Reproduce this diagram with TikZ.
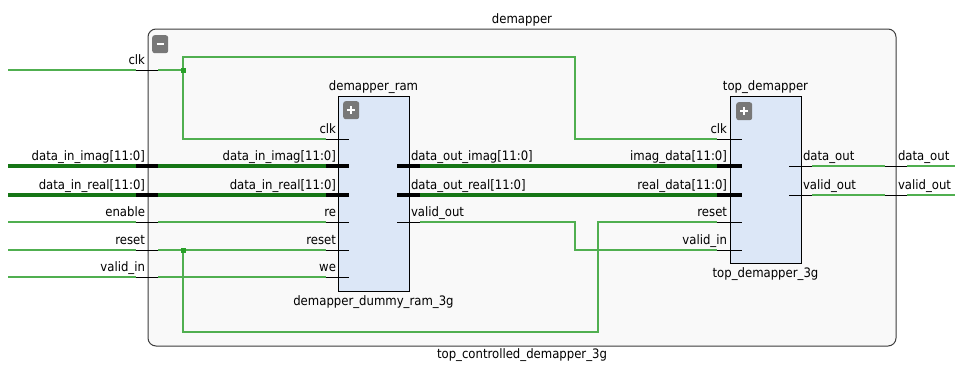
\documentclass[tikz,border=0pt]{standalone}
\usepackage{fontspec}
\setmainfont{DejaVu Sans Condensed}
\definecolor{wiregreen}{RGB}{80,175,80}
\definecolor{dotgreen}{RGB}{40,160,40}
\definecolor{busgreen}{RGB}{22,118,22}
\definecolor{blockblue}{RGB}{220,231,247}
\definecolor{framefill}{RGB}{249,249,249}
\definecolor{framedraw}{RGB}{60,60,60}
\definecolor{btngray}{RGB}{120,120,120}
\tikzset{
  wire/.style={draw=wiregreen, line width=1.1pt},
  bus/.style={draw=busgreen, line width=3.2pt},
  pinstub/.style={draw=black, line width=0.9pt},
  buspin/.style={draw=black, line width=3.6pt},
  lbl/.style={font=\fontsize{13}{15}\selectfont, inner sep=0pt, outer sep=0pt},
  block/.style={draw=black, line width=1pt, fill=blockblue, inner sep=0pt, outer sep=0pt, anchor=north west},
  btn/.style={fill=btngray, rounded corners=2.5pt, minimum width=16pt, minimum height=18pt, inner sep=0pt, anchor=north west},
  netdot/.style={fill=dotgreen, minimum size=5pt, inner sep=0pt}
}
\begin{document}
\begin{tikzpicture}[x=1pt,y=-1pt]
\useasboundingbox (0,0) rectangle (955,365);

% hierarchy frame
\node[draw=framedraw, line width=1pt, fill=framefill, rounded corners=8pt,
      minimum width=748pt, minimum height=317pt, inner sep=0pt, outer sep=0pt,
      anchor=north west] (frame) at (148,29) {};
\node[lbl, anchor=base] (frametitle) at (522,23) {demapper};
\node[lbl, anchor=base] (framename) at (522,358) {top\_controlled\_demapper\_3g};
\node[btn] (collapse) at (152,35) {};
\draw[white, line width=1.6pt] (156.5,44) -- (163.5,44);

% sub-blocks
\node[block, minimum width=71pt, minimum height=195pt] (ram) at (338,96) {};
\node[lbl, anchor=base] (ramtitle) at (373.5,90) {demapper\_ram};
\node[lbl, anchor=base] (ramname) at (373.5,305) {demapper\_dummy\_ram\_3g};
\node[btn] (rambtn) at (343,101) {};
\draw[white, line width=1.4pt] (351,106) -- (351,114) (347,110) -- (355,110);

\node[block, minimum width=71pt, minimum height=167pt] (dem) at (730,96) {};
\node[lbl, anchor=base] (demtitle) at (765.5,90) {top\_demapper};
\node[lbl, anchor=base] (demname) at (765.5,277) {top\_demapper\_3g};
\node[btn] (dembtn) at (736,102) {};
\draw[white, line width=1.4pt] (744,107) -- (744,115) (740,111) -- (748,111);

% pin end points
% frame, left side (outer end / inner end)
\coordinate (fclkO) at (136,70);  \coordinate (fclkI) at (158,70);
\coordinate (fimO) at (136,166);  \coordinate (fimI) at (158,166);
\coordinate (freO) at (136,195);  \coordinate (freI) at (158,195);
\coordinate (fenO) at (136,222);  \coordinate (fenI) at (158,222);
\coordinate (frstO) at (136,250); \coordinate (frstI) at (158,250);
\coordinate (fvinO) at (136,277); \coordinate (fvinI) at (158,277);
% frame, right side
\coordinate (fdoI) at (885,166);  \coordinate (fdoO) at (907,166);
\coordinate (fvoI) at (885,195);  \coordinate (fvoO) at (907,195);
% demapper_ram
\coordinate (rclkO) at (326,139); \coordinate (rclkI) at (349,139);
\coordinate (rimO) at (326,166);  \coordinate (rimI) at (349,166);
\coordinate (rreO) at (326,195);  \coordinate (rreI) at (349,195);
\coordinate (rrenO) at (326,222); \coordinate (rrenI) at (349,222);
\coordinate (rrstO) at (326,250); \coordinate (rrstI) at (349,250);
\coordinate (rweO) at (326,277);  \coordinate (rweI) at (349,277);
\coordinate (roimI) at (397,166); \coordinate (roimO) at (420,166);
\coordinate (roreI) at (397,195); \coordinate (roreO) at (420,195);
\coordinate (rovI) at (397,222);  \coordinate (rovO) at (420,222);
% top_demapper
\coordinate (dclkO) at (717,139); \coordinate (dclkI) at (742,139);
\coordinate (dimO) at (717,166);  \coordinate (dimI) at (742,166);
\coordinate (dreO) at (717,195);  \coordinate (dreI) at (742,195);
\coordinate (drstO) at (717,222); \coordinate (drstI) at (742,222);
\coordinate (dvinO) at (717,250); \coordinate (dvinI) at (742,250);
\coordinate (ddoI) at (789,166);  \coordinate (ddoO) at (812,166);
\coordinate (dvoI) at (789,195);  \coordinate (dvoO) at (812,195);
% loose wire ends at the picture edge
\coordinate (xclk) at (8,70);   \coordinate (xim) at (8,166);
\coordinate (xre) at (8,195);   \coordinate (xen) at (8,222);
\coordinate (xrst) at (8,250);  \coordinate (xvin) at (8,277);
\coordinate (xdo) at (955,166); \coordinate (xvo) at (955,195);

% net branch points
\coordinate (clkjoin) at (183,70);
\coordinate (rstjoin) at (183,250);

% nets
\draw[wire] (xclk) -- (fclkO);
\draw[wire] (fclkI) -- (clkjoin);
\draw[wire] (clkjoin) |- (rclkO);
\draw[wire] (clkjoin) -- (183,57) -- (575,57) |- (dclkO);

\draw[bus] (xim) -- (fimO);
\draw[bus] (fimI) -- (rimO);
\draw[bus] (xre) -- (freO);
\draw[bus] (freI) -- (rreO);
\draw[bus] (roimO) -- (dimO);
\draw[bus] (roreO) -- (dreO);

\draw[wire] (xen) -- (fenO);
\draw[wire] (fenI) -- (rrenO);
\draw[wire] (xrst) -- (frstO);
\draw[wire] (frstI) -- (rrstO);
\draw[wire] (rstjoin) -- (183,332) -- (598,332) |- (drstO);
\draw[wire] (xvin) -- (fvinO);
\draw[wire] (fvinI) -- (rweO);

\draw[wire] (rovO) -- (575,222) |- (dvinO);
\draw[wire] (ddoO) -- (fdoI);
\draw[wire] (dvoO) -- (fvoI);
\draw[wire] (fdoO) -- (xdo);
\draw[wire] (fvoO) -- (xvo);

% pin stubs
\foreach \a/\b in {fclkO/fclkI, fenO/fenI, frstO/frstI, fvinO/fvinI,
                   fdoI/fdoO, fvoI/fvoO,
                   rclkO/rclkI, rrenO/rrenI, rrstO/rrstI, rweO/rweI, rovI/rovO,
                   dclkO/dclkI, drstO/drstI, dvinO/dvinI, ddoI/ddoO, dvoI/dvoO}
  \draw[pinstub] (\a) -- (\b);
\foreach \a/\b in {fimO/fimI, freO/freI, rimO/rimI, rreO/rreI,
                   roimI/roimO, roreI/roreO, dimO/dimI, dreO/dreI}
  \draw[buspin] (\a) -- (\b);

% junction dots
\node[netdot] (clkdot) at (clkjoin) {};
\node[netdot] (rstdot) at (rstjoin) {};

% pin labels
\node[lbl, anchor=base east] at (145,64.5) {clk};
\node[lbl, anchor=base east] at (145,160.5) {data\_in\_imag[11:0]};
\node[lbl, anchor=base east] at (145,189.5) {data\_in\_real[11:0]};
\node[lbl, anchor=base east] at (145,216.5) {enable};
\node[lbl, anchor=base east] at (145,244.5) {reset};
\node[lbl, anchor=base east] at (145,271.5) {valid\_in};

\node[lbl, anchor=base east] at (336,133.5) {clk};
\node[lbl, anchor=base east] at (336,160.5) {data\_in\_imag[11:0]};
\node[lbl, anchor=base east] at (336,189.5) {data\_in\_real[11:0]};
\node[lbl, anchor=base east] at (336,216.5) {re};
\node[lbl, anchor=base east] at (336,244.5) {reset};
\node[lbl, anchor=base east] at (336,271.5) {we};
\node[lbl, anchor=base west] at (411,160.5) {data\_out\_imag[11:0]};
\node[lbl, anchor=base west] at (411,189.5) {data\_out\_real[11:0]};
\node[lbl, anchor=base west] at (411,216.5) {valid\_out};

\node[lbl, anchor=base east] at (727,133.5) {clk};
\node[lbl, anchor=base east] at (727,160.5) {imag\_data[11:0]};
\node[lbl, anchor=base east] at (727,189.5) {real\_data[11:0]};
\node[lbl, anchor=base east] at (727,216.5) {reset};
\node[lbl, anchor=base east] at (727,244.5) {valid\_in};
\node[lbl, anchor=base west] at (803,160.5) {data\_out};
\node[lbl, anchor=base west] at (803,189.5) {valid\_out};

\node[lbl, anchor=base west] at (898,160.5) {data\_out};
\node[lbl, anchor=base west] at (898,189.5) {valid\_out};
\end{tikzpicture}
\end{document}
